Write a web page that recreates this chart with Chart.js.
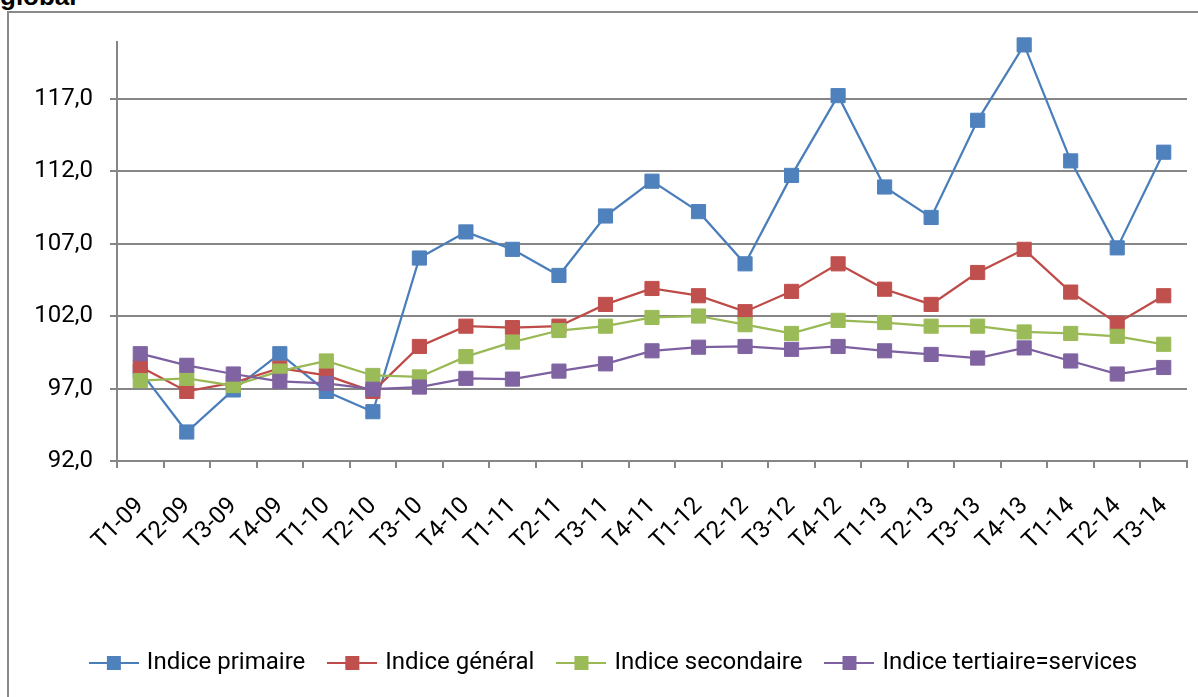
<!DOCTYPE html>
<html>
<head>
<meta charset="utf-8">
<script src="https://cdn.jsdelivr.net/npm/chart.js@4.4.1/dist/chart.umd.min.js"></script>
<style>
  html, body { margin: 0; padding: 0; background: #fff; overflow: hidden; }
  body { width: 1198px; height: 697px; position: relative; }
  #title { position: absolute; left: 0; top: -17px; font: bold 26px "Liberation Sans", Arial, sans-serif; line-height: 26px; color: #000; }
  #frame { position: absolute; left: 7px; top: 11px; width: 1300px; height: 800px; border: 2px solid #8a8a8a; }
  #wrap { position: absolute; left: 0; top: 0; width: 1230px; height: 697px; }
</style>
</head>
<body>
<div id="title">global</div>
<div id="frame"></div>
<div id="wrap"><canvas id="chart"></canvas></div>
<script>
const categories = ['T1-09', 'T2-09', 'T3-09', 'T4-09', 'T1-10', 'T2-10', 'T3-10', 'T4-10',
  'T1-11', 'T2-11', 'T3-11', 'T4-11', 'T1-12', 'T2-12', 'T3-12', 'T4-12',
  'T1-13', 'T2-13', 'T3-13', 'T4-13', 'T1-14', 'T2-14', 'T3-14'];

const indicePrimaire = [98.2, 94.0, 96.9, 99.4, 96.8, 95.4, 106.0, 107.8, 106.6, 104.8, 108.9, 111.3,
  109.2, 105.6, 111.7, 117.2, 110.9, 108.8, 115.5, 120.7, 112.7, 106.7, 113.3];
const indiceGeneral = [98.5, 96.8, 97.4, 98.4, 97.9, 96.8, 99.9, 101.3, 101.2, 101.3, 102.8, 103.9,
  103.4, 102.3, 103.7, 105.6, 103.85, 102.8, 105.0, 106.6, 103.65, 101.5, 103.4];
const indiceSecondaire = [97.55, 97.7, 97.2, 98.2, 98.9, 97.9, 97.8, 99.2, 100.2, 101.0, 101.3, 101.9,
  102.0, 101.4, 100.8, 101.7, 101.55, 101.3, 101.3, 100.9, 100.8, 100.6, 100.05];
const indiceTertiaire = [99.4, 98.6, 98.0, 97.5, 97.35, 96.95, 97.1, 97.7, 97.65, 98.2, 98.7, 99.6,
  99.85, 99.9, 99.7, 99.9, 99.6, 99.35, 99.1, 99.8, 98.9, 98.0, 98.45];

const yTicks = [92, 97, 102, 107, 112, 117];

const seriesNames = ['Indice primaire', 'Indice général', 'Indice secondaire', 'Indice tertiaire=services'];
const lineColors = ['#4A7EBB', '#BE4B48', '#98B954', '#7D60A0'];
const fillColors = ['#4F81BD', '#C0504D', '#9BBB59', '#8064A2'];
const seriesData = [indicePrimaire, indiceGeneral, indiceSecondaire, indiceTertiaire];

const gray = '#868686';
const font = { family: 'Roboto', size: 24 };

// legend icon: line with a square in the middle, like excel
function makeIcon(lineColor, fillColor) {
  const c = document.createElement('canvas');
  c.width = 50; c.height = 16;
  const g = c.getContext('2d');
  g.fillStyle = lineColor;
  g.fillRect(0, 7, 50, 2);
  g.fillStyle = fillColor;
  g.fillRect(18, 1, 14, 14);
  return c;
}
const icons = lineColors.map((c, i) => makeIcon(c, fillColors[i]));

const datasets = seriesData.map((d, i) => ({
  label: seriesNames[i],
  data: d,
  borderColor: lineColors[i],
  backgroundColor: fillColors[i],
  borderWidth: 2.25,
  pointStyle: 'rect',
  pointRadius: 10,
  pointBorderWidth: 1,
  pointBorderColor: fillColors[i],
  pointBackgroundColor: fillColors[i],
  tension: 0,
  clip: false,
  order: 4 - i
}));

new Chart(document.getElementById('chart'), {
  type: 'line',
  data: { labels: categories, datasets: datasets },
  options: {
    responsive: true,
    maintainAspectRatio: false,
    animation: false,
    layout: { padding: { top: 42, bottom: 12, left: 0, right: 0 } },
    plugins: {
      tooltip: { enabled: false },
      legend: {
        position: 'bottom',
        labels: {
          font: font,
          color: '#000',
          usePointStyle: true,
          pointStyleWidth: 42,
          padding: 26,
          generateLabels: () => seriesNames.map((n, i) => ({
            text: n,
            pointStyle: icons[i],
            fillStyle: fillColors[i],
            strokeStyle: lineColors[i],
            lineWidth: 0,
            fontColor: '#000',
            datasetIndex: i
          }))
        }
      }
    },
    scales: {
      x: {
        offset: true,
        grid: { drawOnChartArea: false, offset: true, tickLength: 7, color: gray, lineWidth: 2 },
        border: { color: gray, width: 2 },
        ticks: { font: font, color: '#000', minRotation: 45, maxRotation: 45, autoSkip: false, padding: 24 },
        afterFit: (s) => { s.height = 164; }
      },
      y: {
        min: 92,
        max: 120.9,
        grid: { color: gray, lineWidth: 2, tickLength: 7 },
        border: { color: gray, width: 2 },
        ticks: {
          font: font,
          color: '#000',
          padding: 17,
          callback: (v) => v.toFixed(1).replace('.', ',')
        },
        afterBuildTicks: (s) => { s.ticks = yTicks.map(v => ({ value: v })); },
        afterFit: (s) => { s.width = 117; }
      },
      yRight: {
        type: 'linear',
        position: 'right',
        grid: { display: false },
        border: { display: false },
        ticks: { display: false },
        afterFit: (s) => { s.width = 43; }
      }
    }
  }
});
</script>
</body>
</html>
